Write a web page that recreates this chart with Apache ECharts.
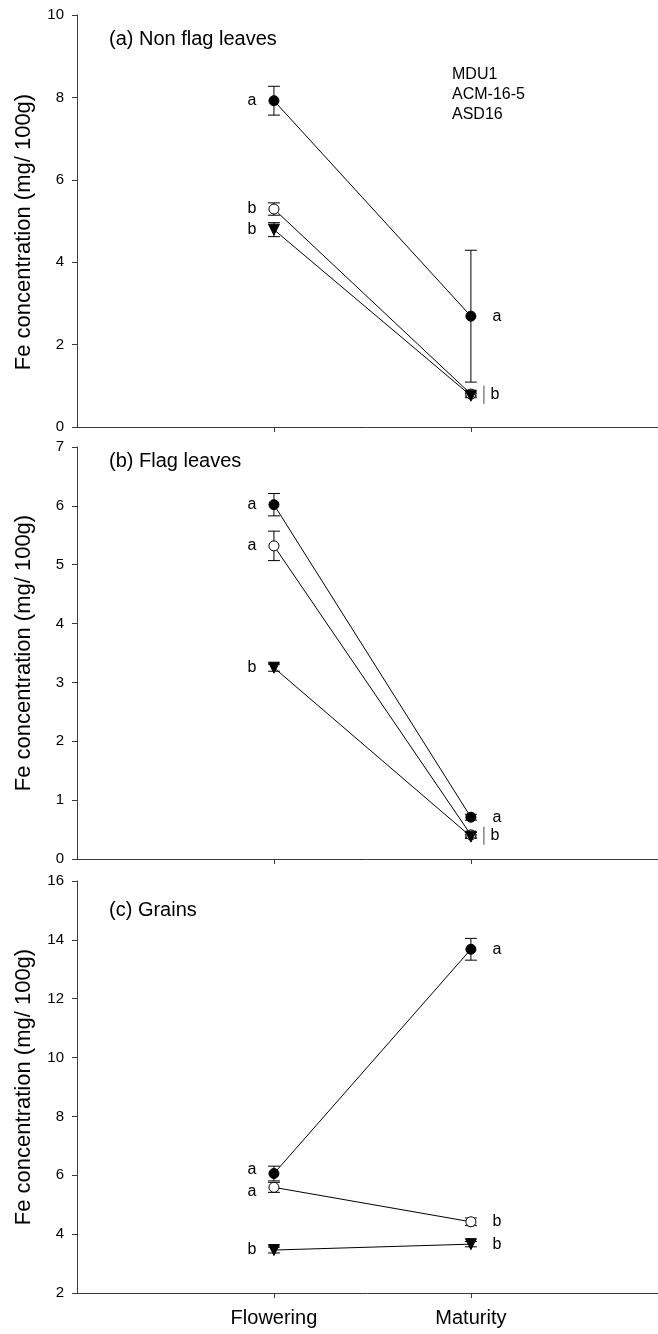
<!DOCTYPE html>
<html><head><meta charset="utf-8">
<script src="https://cdn.jsdelivr.net/npm/echarts@6/dist/echarts.min.js"></script>
<style>html,body{margin:0;padding:0;background:#fff}#c{width:658px;height:1334px}</style>
</head><body><div id="c"></div>
<script>
// ---------- DATA ----------
const categories = ['Flowering', 'Maturity'];
const seriesNames = ['MDU1', 'ACM-16-5', 'ASD16'];
const panelTitles = ['(a) Non flag leaves', '(b) Flag leaves', '(c) Grains'];
const yTitle = 'Fe concentration (mg/ 100g)';

// Panel (a) Non flag leaves
const aMDU1 = [7.92, 2.69];   const aMDU1Err = [0.35, 1.60];
const aACM  = [5.29, 0.80];   const aACMErr  = [0.15, 0.05];
const aASD  = [4.79, 0.76];   const aASDErr  = [0.17, 0.05];
const aLetters = [['a', 'a'], ['b', ''], ['b', '']];
const aBracket = ['b', 1, 2];      // letter, series spanned (Maturity)
const aTicks = [0, 2, 4, 6, 8, 10];

// Panel (b) Flag leaves
const bMDU1 = [6.02, 0.71];   const bMDU1Err = [0.19, 0.05];
const bACM  = [5.32, 0.41];   const bACMErr  = [0.25, 0.04];
const bASD  = [3.25, 0.38];   const bASDErr  = [0.06, 0.03];
const bLetters = [['a', 'a'], ['a', ''], ['b', '']];
const bBracket = ['b', 1, 2];
const bTicks = [0, 1, 2, 3, 4, 5, 6, 7];

// Panel (c) Grains
const cMDU1 = [6.06, 13.68];  const cMDU1Err = [0.25, 0.37];
const cACM  = [5.59, 4.42];   const cACMErr  = [0.17, 0.13];
const cASD  = [3.46, 3.66];   const cASDErr  = [0.10, 0.09];
const cLetters = [['a', 'a'], ['a', 'b'], ['b', 'b']];
const cBracket = null;
const cTicks = [2, 4, 6, 8, 10, 12, 14, 16];

// ---------- BUILD ----------
const panels = [
  {vals: [aMDU1, aACM, aASD], errs: [aMDU1Err, aACMErr, aASDErr], letters: aLetters, bracket: aBracket, ticks: aTicks},
  {vals: [bMDU1, bACM, bASD], errs: [bMDU1Err, bACMErr, bASDErr], letters: bLetters, bracket: bBracket, ticks: bTicks},
  {vals: [cMDU1, cACM, cASD], errs: [cMDU1Err, cACMErr, cASDErr], letters: cLetters, bracket: cBracket, ticks: cTicks}
];

const FONT = '"Liberation Sans", Arial, sans-serif';
const AXIS_COLOR = '#3a3a3a';
const gridTops = [15, 447, 881];
const gridHeight = 412;
const titleTops = [29, 451, 900];
const nameShift = [22, 0, 0];
const X_MAX = 2.95;
const letterNudge = {'2-0-0': -4, '2-1-0': 4};
const symbols = [
  {symbol: 'circle', size: 10, rotate: 0, color: '#000'},
  {symbol: 'circle', size: 10, rotate: 0, color: '#fff'},
  {symbol: 'triangle', size: 11, rotate: 180, color: '#000'}
];

const grids = [], xAxes = [], yAxes = [], series = [], titles = [];
panels.forEach((p, g) => {
  grids.push({left: 77, top: gridTops[g], right: 0, height: gridHeight});
  const tk = p.ticks;
  xAxes.push({
    type: 'value', gridIndex: g, min: 0, max: X_MAX, interval: 1,
    splitLine: {show: false},
    axisLine: {show: true, lineStyle: {color: AXIS_COLOR, width: 1}},
    axisTick: {show: true, inside: false, length: 5, customValues: [1, 2], lineStyle: {color: AXIS_COLOR}},
    axisLabel: {show: g === 2, customValues: [1, 2], margin: 15,
      formatter: v => categories[v - 1] || '',
      color: '#000', fontSize: 20, fontFamily: FONT}
  });
  yAxes.push({
    type: 'value', gridIndex: g, min: tk[0], max: tk[tk.length - 1], interval: tk[1] - tk[0],
    splitLine: {show: false},
    axisLine: {show: true, onZero: false, lineStyle: {color: AXIS_COLOR, width: 1}},
    axisTick: {show: true, inside: false, length: 5, lineStyle: {color: AXIS_COLOR}},
    axisLabel: {color: '#000', fontSize: 15, fontFamily: FONT, margin: 13},
    name: yTitle, nameLocation: 'middle', nameRotate: 90, nameGap: 42,
    nameTextStyle: {color: '#000', fontSize: 22, fontFamily: FONT, padding: [0, nameShift[g], 0, 0]}
  });
  titles.push({text: panelTitles[g], left: 109, top: titleTops[g], padding: 0,
    textStyle: {color: '#000', fontSize: 20, fontWeight: 'normal', fontFamily: FONT}});

  // error bars
  const errData = [];
  p.vals.forEach((v, s) => v.forEach((m, i) => errData.push([i + 1, m, p.errs[s][i]])));
  series.push({
    type: 'custom', xAxisIndex: g, yAxisIndex: g, z: 1, silent: true,
    encode: {x: 0, y: 1},
    data: errData,
    renderItem: (params, api) => {
      const x = api.value(0), m = api.value(1), e = api.value(2);
      const t = api.coord([x, m + e]), b = api.coord([x, m - e]);
      const hw = 6, st = {stroke: '#000', lineWidth: 1};
      return {type: 'group', children: [
        {type: 'line', shape: {x1: t[0], y1: t[1], x2: b[0], y2: b[1]}, style: st},
        {type: 'line', shape: {x1: t[0] - hw, y1: t[1], x2: t[0] + hw, y2: t[1]}, style: st},
        {type: 'line', shape: {x1: b[0] - hw, y1: b[1], x2: b[0] + hw, y2: b[1]}, style: st}
      ]};
    }
  });

  // lines with markers
  p.vals.forEach((v, s) => {
    const sy = symbols[s];
    series.push({
      name: seriesNames[s], type: 'line', xAxisIndex: g, yAxisIndex: g, z: 3 + s,
      data: v.map((m, i) => [i + 1, m]),
      symbol: sy.symbol, symbolSize: sy.size, symbolRotate: sy.rotate,
      showAllSymbol: true,
      lineStyle: {color: '#000', width: 1},
      itemStyle: {color: sy.color, borderColor: '#000', borderWidth: 1},
      emphasis: {disabled: true}, animation: false
    });
  });

  // significance letters
  const letData = [];
  p.letters.forEach((row, s) => row.forEach((L, i) => {
    if (L) letData.push([i + 1, p.vals[s][i], L, 0, letterNudge[g + '-' + s + '-' + i] || 0]);
  }));
  if (p.bracket) {
    const [L, s1, s2] = p.bracket;
    letData.push([2, (p.vals[s1][1] + p.vals[s2][1]) / 2, L, 1, 0]);
  }
  series.push({
    type: 'custom', xAxisIndex: g, yAxisIndex: g, z: 10, silent: true,
    encode: {x: 0, y: 1},
    data: letData,
    renderItem: (params, api) => {
      const x = api.value(0), y = api.value(1);
      const L = letData[params.dataIndex][2];
      const br = api.value(3), dy = api.value(4);
      const c = api.coord([x, y]);
      const children = [];
      let tx;
      if (x === 1) tx = c[0] - 22;
      else if (br) {
        tx = c[0] + 24;
        children.push({type: 'line', shape: {x1: c[0] + 13, y1: c[1] - 9, x2: c[0] + 13, y2: c[1] + 9},
          style: {stroke: '#666', lineWidth: 1.2}});
      } else tx = c[0] + 26;
      children.push({type: 'text', x: tx, y: c[1] + dy,
        style: {text: L, fill: '#000', font: '16px ' + FONT, align: 'center', verticalAlign: 'middle'}});
      return {type: 'group', children};
    }
  });
});

const chart = echarts.init(document.getElementById('c'), null, {renderer: 'canvas'});
chart.setOption({
  animation: false,
  backgroundColor: '#fff',
  title: titles,
  legend: {
    data: seriesNames, orient: 'vertical', left: 441, top: 62, itemGap: 4,
    icon: 'none', itemWidth: 1, itemHeight: 14, selectedMode: false,
    textStyle: {color: '#000', fontSize: 16, fontFamily: FONT}
  },
  grid: grids, xAxis: xAxes, yAxis: yAxes, series
});
</script></body></html>
